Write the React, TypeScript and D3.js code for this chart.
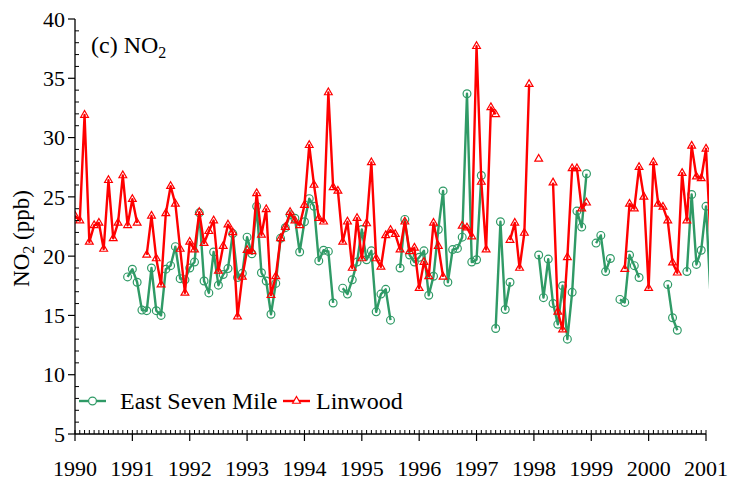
import React from 'react';
import * as d3 from 'd3';

// Monthly NO2 means (ppb), Jan 1990 onward; null = no data for that month
const eastSevenMile: (number | null)[] = [
  null, null, null, null, null, null, null, null, null, null, null, 18.25,
  18.9, 17.8, 15.45, 15.4, 19.0, 15.4, 15.0, 18.9, 19.2, 20.8, 18.1, 18.0,
  19.0, 19.5, 23.65, 17.9, 16.9, 20.35, 17.55, 18.45, 18.95, 21.9, 18.2, 18.55,
  21.6, 20.2, 24.2, 18.6, 17.9, 15.1, 17.7, 21.5, 22.4, 23.5, 23.2, 20.35,
  22.9, 24.85, 24.2, 19.6, 20.5, 20.4, 16.05, null, 17.3, 16.8, 18.0, 19.5,
  22.25, 19.7, 20.45, 15.3, 16.8, 17.2, 14.6, null, 19.0, 23.1, 20.1, 19.5,
  19.9, 20.45, 16.7, 18.3, 22.25, 25.5, 17.8, 20.55, 20.65, 21.6, 33.7, 19.5,
  19.7, 26.8, null, null, 13.9, 22.9, 15.5, 17.8, null, null, null, null,
  null, 20.1, 16.5, 19.75, 16.0, 14.25, 17.5, 13.0, 16.95, 23.8, 22.45, 26.95,
  null, 21.1, 21.75, 18.7, 19.8, null, 16.35, 16.1, 20.1, 19.2, 18.2, null,
  null, null, null, null, 17.6, 14.8, 13.75, null, 18.7, 25.2, 19.3, 20.5,
  24.2, 16.2,
];

const linwood: (number | null)[] = [
  23.4, 23.0, 31.9, 21.2, 22.6, 22.8, 20.6, 26.4, 21.5, 22.8, 26.8, 22.6,
  24.8, 22.8, null, 20.1, 23.4, 19.8, 17.6, 23.6, 25.9, 24.4, 20.6, 16.9,
  21.2, 20.55, 23.7, 21.1, 22.1, 23.0, 18.75, 20.85, 22.65, 22.0, 14.9, 18.25,
  20.5, 20.4, 25.3, 21.8, 23.95, 16.7, 18.3, 21.5, 22.45, 23.7, 23.0, 22.6,
  24.3, 29.35, 26.0, 23.2, 22.9, 33.8, 25.8, 25.5, 21.2, 22.9, 19.0, 23.2,
  19.8, 22.75, 27.9, 19.8, 19.1, 21.75, 22.2, 21.85, 20.55, 22.9, 20.4, 20.7,
  17.3, 19.5, 18.3, 22.8, 20.85, 18.25, null, null, null, 22.55, 22.4, 21.65,
  37.7, 26.25, 20.55, 32.55, 31.95, null, null, 21.35, 22.8, 19.0, 21.95, 34.5,
  null, 28.2, null, null, 26.2, 15.3, 13.8, 19.9, 27.4, 27.4, 24.0, 24.5,
  null, null, null, null, null, null, null, 18.9, 24.4, 24.0, 27.5, 25.0,
  17.3, 27.9, 24.4, 24.15, 23.0, 19.45, 18.6, 27.0, 23.0, 29.3, 26.7, 26.55,
  29.05, 21.0,
];

const yearTicks = d3.range(1990, 2002);
const monthTicks = d3.range(0, 133).map((m) => 1990 + m / 12);
const valueTicks = [5, 10, 15, 20, 25, 30, 35, 40];
const minorValueTicks = d3.range(5, 41);

const GREEN = '#2f9a66';
const RED = '#ff0000';
const FONT = '"Liberation Serif", "Times New Roman", serif';

const W = 732;
const H = 481;
const X0 = 75;
const X1 = 706;
const YB = 434;
const YT = 19;

export default function App() {
  const x = d3.scaleLinear().domain([1990, 2001]).range([X0, X1]);
  const y = d3.scaleLinear().domain([5, 40]).range([YB, YT]);
  const t = (i: number) => 1990 + i / 12;

  const line = d3
    .line<number | null>()
    .defined((d) => d != null)
    .x((_, i) => x(t(i)))
    .y((d) => y(d as number));

  const tri = d3.symbol().type(d3.symbolTriangle).size(26)();

  const pts = (arr: (number | null)[]) =>
    arr
      .map((v, i) => ({ v, i }))
      .filter((p) => p.v != null && t(p.i) <= 2001 + 1e-9);

  return (
    <svg
      width={W}
      height={H}
      style={{ position: 'absolute', left: 0, top: 0, background: '#fff' }}
      fontFamily={FONT}
    >
      <defs>
        <clipPath id="plotClip">
          <rect x={X0} y={0} width={X1 - X0 + 3} height={YB} />
        </clipPath>
      </defs>

      {/* series */}
      <g clipPath="url(#plotClip)">
        <path d={line(eastSevenMile) || ''} fill="none" stroke={GREEN} strokeWidth={2.4} strokeLinejoin="round" />
        {pts(eastSevenMile).map((p) => (
          <circle key={'g' + p.i} cx={x(t(p.i))} cy={y(p.v as number)} r={3.9} fill="none" stroke={GREEN} strokeWidth={1.2} />
        ))}
        <path d={line(linwood) || ''} fill="none" stroke={RED} strokeWidth={2.4} strokeLinejoin="round" />
        {pts(linwood).map((p) => (
          <path key={'r' + p.i} d={tri || ''} transform={`translate(${x(t(p.i))},${y(p.v as number)})`} fill="none" stroke={RED} strokeWidth={1.2} />
        ))}
      </g>

      {/* y axis */}
      <line x1={X0} x2={X0} y1={YT} y2={YB} stroke="#000" strokeWidth={1.3} />
      {minorValueTicks.filter((v) => v % 5 !== 0).map((v) => (
        <line key={'ym' + v} x1={X0} x2={X0 + 4} y1={y(v)} y2={y(v)} stroke="#000" strokeWidth={1} />
      ))}
      {valueTicks.map((v) => (
        <g key={'y' + v}>
          <line x1={X0 - 7} x2={X0} y1={y(v)} y2={y(v)} stroke="#000" strokeWidth={1.2} />
          <text x={X0 - 10} y={y(v)} dy="0.35em" textAnchor="end" fontSize={22}>
            {v}
          </text>
        </g>
      ))}

      {/* x axis */}
      <line x1={X0} x2={X1} y1={YB} y2={YB} stroke="#000" strokeWidth={1.3} />
      {monthTicks.map((m, k) => (
        <line key={'xm' + k} x1={x(m)} x2={x(m)} y1={YB - 4} y2={YB} stroke="#000" strokeWidth={1} />
      ))}
      {yearTicks.map((yr) => (
        <g key={'x' + yr}>
          <line x1={x(yr)} x2={x(yr)} y1={YB} y2={YB + 7} stroke="#000" strokeWidth={1.2} />
          <text x={x(yr)} y={476} textAnchor="middle" fontSize={22}>
            {yr}
          </text>
        </g>
      ))}

      {/* axis title */}
      <text transform={`translate(29,${(YT + YB) / 2 + 12}) rotate(-90)`} textAnchor="middle" fontSize={23}>
        NO<tspan dy="5" fontSize={16}>2</tspan>
        <tspan dy="-5"> (ppb)</tspan>
      </text>

      {/* panel label */}
      <text x={91} y={53} fontSize={24}>
        (c) NO<tspan dy="5" fontSize={16}>2</tspan>
      </text>

      {/* legend */}
      <g>
        <line x1={79} x2={106} y1={401} y2={401} stroke={GREEN} strokeWidth={2.4} />
        <circle cx={92.5} cy={401} r={3.9} fill="#fff" stroke={GREEN} strokeWidth={1.2} />
        <text x={120} y={409} fontSize={24}>East Seven Mile</text>
        <line x1={283} x2={310} y1={401} y2={401} stroke={RED} strokeWidth={2.4} />
        <path d={tri || ''} transform="translate(296.5,401)" fill="#fff" stroke={RED} strokeWidth={1.2} />
        <text x={316} y={409} fontSize={24}>Linwood</text>
      </g>
    </svg>
  );
}
